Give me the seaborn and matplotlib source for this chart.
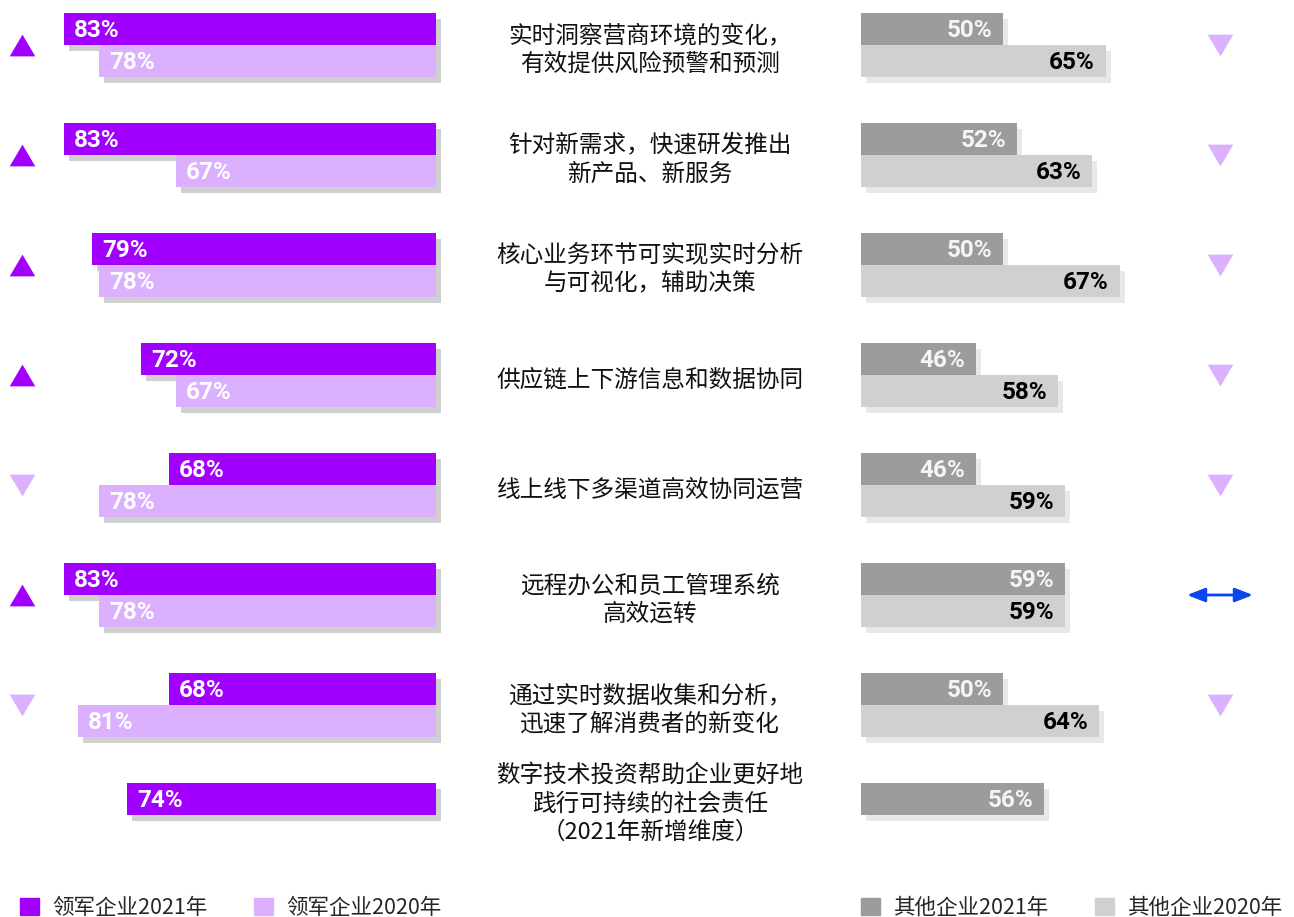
import matplotlib.pyplot as plt
import matplotlib.patheffects as pe
from matplotlib.patches import Patch
import pandas as pd
import seaborn as sns

sns.set_theme(style="white")
plt.rcParams["font.family"] = ["Noto Sans CJK SC", "DejaVu Sans"]

# %% dados
categorias = [
    "实时洞察营商环境的变化，\n有效提供风险预警和预测",
    "针对新需求，快速研发推出\n新产品、新服务",
    "核心业务环节可实现实时分析\n与可视化，辅助决策",
    "供应链上下游信息和数据协同",
    "线上线下多渠道高效协同运营",
    "远程办公和员工管理系统\n高效运转",
    "通过实时数据收集和分析，\n迅速了解消费者的新变化",
    "数字技术投资帮助企业更好地\n践行可持续的社会责任\n（2021年新增维度）",
]
lider_2021 = [83, 83, 79, 72, 68, 83, 68, 74]
lider_2020 = [78, 67, 78, 67, 78, 78, 81, None]
outros_2021 = [50, 52, 50, 46, 46, 59, 50, 56]
outros_2020 = [65, 63, 67, 58, 59, 59, 64, None]
anos = ["2021年", "2020年"]

legenda_lider = ["领军企业2021年", "领军企业2020年"]
legenda_outros = ["其他企业2021年", "其他企业2020年"]

ROXO, ROXO_CLARO = "#A100FF", "#DAB0FF"
CINZA, CINZA_CLARO = "#9C9C9C", "#D0D0D0"
AZUL = "#0A46F0"
LARGURA = 0.582
# inicio visivel das barras (%) e escala (px por %) de cada lado
BASE_L, ESC_L = 29.9, 7.0
BASE_R, ESC_R = 29.2, 6.845


def tabela(v2021, v2020):
    linhas = []
    for cat, a, b in zip(categorias, v2021, v2020):
        linhas.append({"categoria": cat, "ano": anos[0], "valor": a})
        if b is not None:
            linhas.append({"categoria": cat, "ano": anos[1], "valor": b})
    return pd.DataFrame(linhas)


def desenhar(ax, df, cores, sombra, base):
    sns.barplot(
        data=df, x="valor", y="categoria", hue="ano",
        order=categorias, hue_order=anos, palette=cores,
        orient="h", width=LARGURA, saturation=1, linewidth=0,
        errorbar=None, legend=False, ax=ax,
    )
    for p in ax.patches:
        w = p.get_width()
        p.set_x(base)
        p.set_width(w - base)
        p.set_path_effects([
            pe.SimplePatchShadow(offset=(3.6, -4.3), shadow_rgbFace=sombra, alpha=1),
            pe.Normal(),
        ])


W, H = 1294, 917
fig = plt.figure(figsize=(W / 100, H / 100), dpi=100)
y_lim = ((H - 45) / 110, -45 / 110)

ax_l = fig.add_axes([0, 0, 450 / W, 1])
ax_m = fig.add_axes([450 / W, 0, 400 / W, 1])
ax_r = fig.add_axes([850 / W, 0, 444 / W, 1])

desenhar(ax_l, tabela(lider_2021, lider_2020),
         {anos[0]: ROXO, anos[1]: ROXO_CLARO}, "#D0D0D0", BASE_L)
desenhar(ax_r, tabela(outros_2021, outros_2020),
         {anos[0]: CINZA, anos[1]: CINZA_CLARO}, "#E8E8E8", BASE_R)

ax_l.set_xlim(BASE_L + 436 / ESC_L, BASE_L - 14 / ESC_L)
ax_r.set_xlim(BASE_R - 11 / ESC_R, BASE_R + 433 / ESC_R)

# rotulos de valor
fonte_num = dict(fontsize=17.5, fontweight="bold", family=["Roboto", "DejaVu Sans"],
                 va="center", textcoords="offset points")
for ax, lado in [(ax_l, "l"), (ax_r, "r")]:
    for k, cont in enumerate(ax.containers):
        for p, v in zip(cont.patches, cont.datavalues):
            yc = p.get_y() + p.get_height() / 2
            if lado == "l":
                ax.annotate(f"{v:.0f}%", (v, yc), xytext=(7, -1), ha="left",
                            color="white", **fonte_num)
            else:
                ax.annotate(f"{v:.0f}%", (v, yc), xytext=(-8, -1), ha="right",
                            color="#F5F5F5" if k == 0 else "black", **fonte_num)

# indicadores de tendencia
tri_cima = [(-1, -0.85), (1, -0.85), (0, 0.85)]
tri_baixo = [(-1, 0.85), (1, 0.85), (0, -0.85)]
for ax, xa, v21, v20 in [(ax_l, 22 / 450, lider_2021, lider_2020),
                         (ax_r, 370 / 444, outros_2021, outros_2020)]:
    for i, (a, b) in enumerate(zip(v21, v20)):
        if b is None:
            continue
        if a > b:
            ax.scatter(xa, i, marker=tri_cima, s=340, color=ROXO, linewidths=0,
                       transform=ax.get_yaxis_transform(), clip_on=False)
        elif a < b:
            ax.scatter(xa, i, marker=tri_baixo, s=340, color=ROXO_CLARO, linewidths=0,
                       transform=ax.get_yaxis_transform(), clip_on=False)
        else:
            ax.annotate("", xy=(xa + 33 / 444, i), xytext=(xa - 33 / 444, i),
                        xycoords=ax.get_yaxis_transform(),
                        textcoords=ax.get_yaxis_transform(),
                        arrowprops=dict(arrowstyle="<|-|>,head_length=0.9,head_width=0.35",
                                        color=AZUL, lw=2, shrinkA=0, shrinkB=0))

# textos centrais
for i, cat in enumerate(categorias):
    desloc = -LARGURA / 4 if lider_2020[i] is None else 0
    ax_m.text(0.5, i + desloc + 0.045, cat, transform=ax_m.get_yaxis_transform(),
              ha="center", va="center", fontsize=17, color="#111111",
              linespacing=1.3)

for ax in (ax_l, ax_m, ax_r):
    ax.set_ylim(*y_lim)
    ax.axis("off")

# legendas
estilo = dict(loc="center left", ncol=2, frameon=False, fontsize=15.5,
              handlelength=0.88, handleheight=0.88, handletextpad=0.6,
              columnspacing=2.2, borderpad=0, borderaxespad=0)
fig.legend([Patch(color=ROXO), Patch(color=ROXO_CLARO)], legenda_lider,
           bbox_to_anchor=(20 / W, 9 / H), **estilo)
fig.legend([Patch(color=CINZA), Patch(color=CINZA_CLARO)], legenda_outros,
           bbox_to_anchor=(861 / W, 9 / H), **estilo)

fig.savefig("out.png", dpi=100)
